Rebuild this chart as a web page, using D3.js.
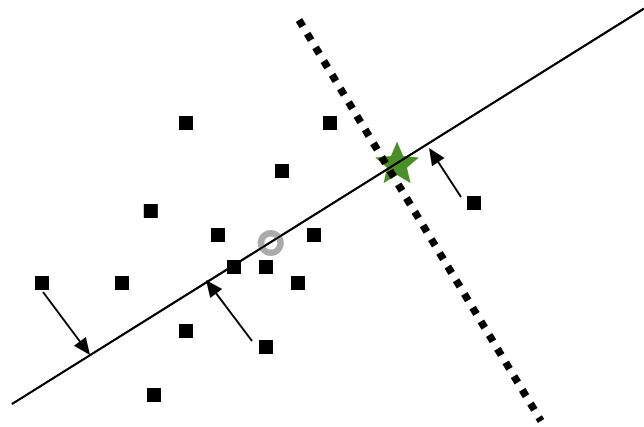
<!DOCTYPE html>
<html>
<head>
<meta charset="utf-8">
<script src="https://cdn.jsdelivr.net/npm/d3@7"></script>
<style>
  html, body { margin: 0; padding: 0; background: #ffffff; }
  svg { display: block; }
</style>
</head>
<body>
<svg id="chart" width="644" height="427"></svg>
<script>
// ---- data (abstract units) ----
const pointX = [10, 19, 16, 7.8, 12, 18, 13, 15, 17, 1, 6, 10, 15, 8, 28];
const pointY = [20, 20, 17, 14.5, 13, 13, 11, 11, 10, 10, 10, 7, 6, 3, 15];

// principal (solid) line endpoints
const fitLineX = [-0.875, 38.625];
const fitLineY = [2.4375, 27.15];

// perpendicular dotted line endpoints
const perpLineX = [17.06, 32.19];
const perpLineY = [26.44, 1.375];

// centre marker (gray ring) and projected point (star)
const ringX = [15.3];
const ringY = [12.5];
const starX = [23.19];
const starY = [17.4];

// projection arrows: from -> to
const arrowFromX = [1.0625, 14.125, 27.1875];
const arrowFromY = [9.4375, 6.375, 15.375];
const arrowToX   = [4.0, 11.25, 25.19];
const arrowToY   = [5.5, 10.1875, 18.44];

// ---- scales ----
const x = d3.scaleLinear().domain([0, 40]).range([26, 666]);
const y = d3.scaleLinear().domain([0, 20]).range([443, 123]);

const svg = d3.select("#chart");

// star (sits underneath the lines)
function starPoints(cx, cy, R, r) {
  const pts = [];
  for (let k = 0; k < 10; k++) {
    const ang = -Math.PI / 2 + k * Math.PI / 5;
    const rad = k % 2 === 0 ? R : r;
    pts.push([cx + rad * Math.cos(ang), cy + rad * Math.sin(ang)]);
  }
  return pts.map(p => p.join(",")).join(" ");
}
svg.append("polygon")
  .attr("points", starPoints(x(starX[0]), y(starY[0]), 23, 10.5))
  .attr("fill", "#4b8f29");

// solid line
svg.append("line")
  .attr("x1", x(fitLineX[0])).attr("y1", y(fitLineY[0]))
  .attr("x2", x(fitLineX[1])).attr("y2", y(fitLineY[1]))
  .attr("stroke", "#000").attr("stroke-width", 2);

// dotted line
svg.append("line")
  .attr("x1", x(perpLineX[0])).attr("y1", y(perpLineY[0]))
  .attr("x2", x(perpLineX[1])).attr("y2", y(perpLineY[1]))
  .attr("stroke", "#000").attr("stroke-width", 7.5)
  .attr("stroke-dasharray", "7.5 8.5");

// arrows
const arrows = arrowFromX.map((d, i) => ({
  x0: x(arrowFromX[i]), y0: y(arrowFromY[i]),
  x1: x(arrowToX[i]), y1: y(arrowToY[i])
}));
const headLen = 17, headHalf = 7.5;
arrows.forEach(a => {
  const dx = a.x1 - a.x0, dy = a.y1 - a.y0;
  const L = Math.hypot(dx, dy);
  const ux = dx / L, uy = dy / L;
  const bx = a.x1 - ux * headLen, by = a.y1 - uy * headLen;
  svg.append("line")
    .attr("x1", a.x0).attr("y1", a.y0)
    .attr("x2", bx + ux * 2).attr("y2", by + uy * 2)
    .attr("stroke", "#000").attr("stroke-width", 2);
  const px = -uy, py = ux;
  svg.append("polygon")
    .attr("points", [
      [a.x1, a.y1],
      [bx + px * headHalf, by + py * headHalf],
      [bx - px * headHalf, by - py * headHalf]
    ].map(p => p.join(",")).join(" "))
    .attr("fill", "#000");
});

// squares
const size = 14;
svg.selectAll("rect.pt")
  .data(pointX.map((d, i) => ({ x: d, y: pointY[i] })))
  .enter().append("rect")
  .attr("class", "pt")
  .attr("x", d => x(d.x) - size / 2)
  .attr("y", d => y(d.y) - size / 2)
  .attr("width", size).attr("height", size)
  .attr("fill", "#000");

// gray ring
svg.append("circle")
  .attr("cx", x(ringX[0])).attr("cy", y(ringY[0]))
  .attr("r", 9.8)
  .attr("fill", "none")
  .attr("stroke", "#ababab")
  .attr("stroke-width", 6.5);

// solid line over the ring
svg.append("line")
  .attr("x1", x(fitLineX[0])).attr("y1", y(fitLineY[0]))
  .attr("x2", x(fitLineX[1])).attr("y2", y(fitLineY[1]))
  .attr("stroke", "#000").attr("stroke-width", 2);
</script>
</body>
</html>
